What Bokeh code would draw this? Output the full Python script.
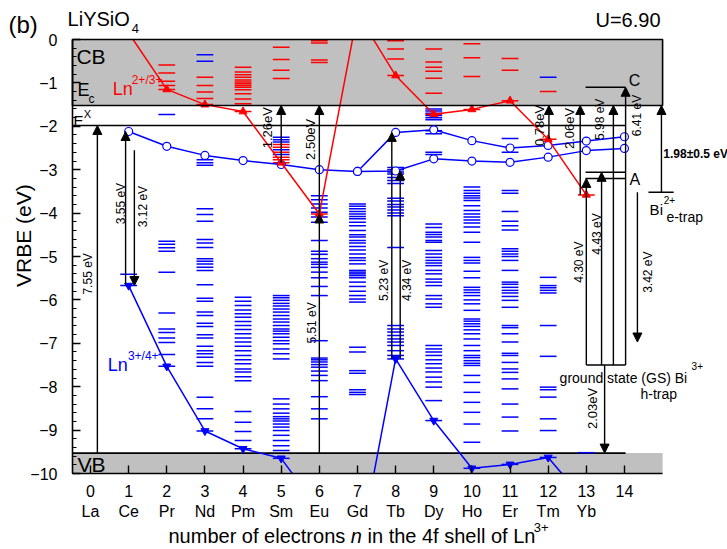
import math
from bokeh.plotting import figure
from bokeh.models import (Range1d, Label, Arrow, NormalHead, FixedTicker,
                          SingleIntervalTicker, LinearAxis)
from bokeh.embed import file_html
from bokeh.resources import INLINE

FONT = "Liberation Sans"
RED = "#ff0000"
BLUE = "#0000ff"
GRAY = "#c0c0c0"
BLACK = "#000000"

# ------------------------------------------------------------------ data
n_values = list(range(15))
element_names = ["La", "Ce", "Pr", "Nd", "Pm", "Sm", "Eu", "Gd", "Tb", "Dy",
                 "Ho", "Er", "Tm", "Yb", ""]

# host band energies (eV, VRBE)
E_VB_TOP = -9.53
E_X = -1.98
E_C = -1.52
# Bi levels
BI3_GS = -7.50
BI_A_LOW = -3.20
BI_A = -3.06
BI_C = -1.10
BI2_TRAP = -3.52
BI2_TRAP_END = -6.97
CE_EMIS_TOP = -2.55

# Ln2+/3+ ground states (red)
ln23_n = [1, 2, 3, 4, 5, 6, 7, 8, 9, 10, 11, 12, 13]
ln23_vrbe = [0.15, -1.15, -1.50, -1.66, -2.84, -4.02, 0.60, -0.83, -1.72, -1.61,
             -1.41, -2.30, -3.58]
# Ln3+/4+ ground states (blue)
ln34_n = [1, 2, 3, 4, 5, 6, 7, 8, 9, 10, 11, 12, 13]
ln34_vrbe = [-5.67, -7.53, -9.02, -9.43, -9.65, -10.85, -12.00, -7.36, -8.78,
             -9.88, -9.79, -9.63, -10.66]
# lowest 5d levels (open circles)
fd_upper_n = [1, 2, 3, 4, 5, 6, 7, 8, 9, 10, 11, 12, 13, 14]
fd_upper_vrbe = [-2.12, -2.46, -2.67, -2.79, -2.88, -3.00, -3.04, -2.14, -2.08,
                 -2.33, -2.50, -2.44, -2.34, -2.24]
fd_lower_n = [7, 8, 9, 10, 11, 12, 13, 14]
fd_lower_vrbe = [-3.04, -3.03, -2.75, -2.80, -2.83, -2.71, -2.56, -2.51]

# Ln3+ 4f levels (blue dashes)
blue_Ce = [-5.41, -5.67]
blue_Pr = [-1.73, -4.65, -4.72, -4.80, -4.88, -5.36, -6.30, -6.67, -6.75, -6.88,
           -6.98, -7.26, -7.53]
blue_Nd = [-0.35, -0.50, -2.77, -2.84, -2.90, -3.90, -4.03, -4.19, -4.61, -4.69,
           -4.79, -5.05, -5.11, -5.17, -5.25, -5.32, -5.65, -5.96, -6.03, -6.28,
           -6.36, -6.54, -6.61, -6.80, -6.88, -7.07, -7.17, -7.24, -7.32, -7.44,
           -7.53, -8.24, -8.51, -8.74, -9.02]
blue_Pm = [-5.94, -6.03, -6.13, -6.23, -6.32, -6.40, -6.50, -6.59, -6.68, -6.78,
           -6.88, -6.97, -7.07, -7.17, -7.28, -7.38, -7.47, -7.59, -7.66, -7.77,
           -7.86, -8.57, -8.82, -9.03, -9.24, -9.43]
blue_Sm = [-2.25, -2.31, -2.36, -2.54, -2.65, -5.90, -5.95, -6.01, -6.08, -6.14,
           -6.21, -6.28, -6.36, -6.44, -6.51, -6.59, -6.67, -6.72, -6.78, -6.86,
           -6.94, -7.01, -7.13, -7.24, -7.36, -8.28, -8.40, -8.51, -8.61, -8.69,
           -8.74, -8.79, -8.86, -8.93, -9.01, -9.12, -9.24, -9.36, -9.47, -9.65]
blue_Eu = [-3.60, -3.69, -3.79, -3.88, -3.98, -4.09, -4.21, -4.63, -4.88, -4.95,
           -5.05, -5.13, -5.18, -5.25, -5.36, -5.49, -5.69, -5.90, -6.94, -7.34,
           -7.38, -7.43, -7.49, -7.55, -7.64, -7.74, -7.86, -8.23, -8.51, -8.74]
blue_Gd = [-3.79, -3.84, -3.90, -3.96, -4.02, -4.08, -4.13, -4.21, -4.29, -4.40,
           -4.50, -4.55, -4.63, -4.69, -4.77, -4.85, -4.94, -5.03, -5.09, -5.17,
           -5.32, -5.36, -5.40, -5.44, -5.49, -5.59, -5.69, -5.80, -5.90, -5.98,
           -6.05, -7.09, -7.20, -7.63, -7.69, -8.07, -8.13, -8.18]
blue_Tb = [-2.95, -3.00, -3.05, -3.10, -3.18, -3.25, -3.32, -3.66, -3.72, -3.80,
           -3.86, -3.93, -4.00, -4.06, -4.79, -6.59, -6.67, -6.74, -6.82, -6.90,
           -6.97, -7.05, -7.17, -7.28, -7.36]
blue_Dy = [-1.60, -1.65, -1.70, -1.75, -1.80, -1.85, -2.10, -2.17, -2.60, -2.65,
           -4.25, -4.33, -4.44, -4.49, -4.55, -4.63, -4.67, -4.86, -4.94, -5.02,
           -5.09, -5.15, -5.21, -5.32, -5.40, -5.52, -5.59, -5.67, -5.90, -5.98,
           -6.09, -6.17, -7.05, -7.13, -7.20, -7.28, -7.38, -7.47, -7.57, -7.66,
           -7.78, -7.89, -8.01, -8.32, -8.78]
blue_Ho = [-3.40, -3.48, -3.54, -3.60, -3.65, -3.71, -3.83, -3.94, -4.02, -4.09,
           -4.16, -4.23, -4.32, -4.44, -4.67, -5.02, -5.09, -5.15, -5.34, -5.49,
           -5.71, -5.77, -5.83, -5.90, -6.00, -6.09, -6.24, -6.44, -6.49, -6.55,
           -6.61, -6.69, -6.78, -6.90, -7.05, -7.17, -7.28, -7.33, -7.40, -7.46,
           -7.51, -7.74, -7.90, -8.13, -8.36, -8.59, -8.86, -9.28, -9.88]
blue_Er = [-2.28, -2.60, -3.48, -3.54, -3.96, -4.19, -4.29, -4.39, -4.82, -4.88,
           -4.94, -5.00, -5.09, -5.32, -5.59, -5.64, -5.71, -5.78, -5.84, -5.92,
           -6.01, -6.17, -6.59, -6.64, -6.78, -6.97, -7.23, -7.28, -7.44, -7.59,
           -7.67, -7.82, -8.05, -8.40, -8.70, -9.02, -9.79]
blue_Tm = [-0.87, -5.48, -5.67, -5.72, -5.78, -5.84, -6.59, -7.30, -8.01, -8.07,
           -8.24, -8.74, -9.01, -9.63]
blue_Yb = [-9.52]

# Ln2+ 4f levels (red dashes)
red_Pr = [-0.59, -0.77, -0.96, -1.06, -1.15]
red_Nd = [-0.87, -1.06, -1.21, -1.36, -1.50]
red_Pm = [-0.64, -0.75, -0.81, -0.87, -0.93, -0.98, -1.02, -1.06, -1.10, -1.16,
          -1.25, -1.37, -1.48, -1.66]
red_Sm = [-0.18, -0.46, -0.71, -0.90, -2.42, -2.48, -2.60, -2.71, -2.77, -2.84]
red_Eu = [-0.03, -0.08, -0.47, -0.53, -4.02]
red_Tb = [-0.03, -0.22, -0.45, -0.83]
red_Dy = [-0.22, -0.52, -0.64, -0.73, -0.89, -1.24, -1.72]
red_Ho = [-0.10, -0.42, -0.85, -1.61]
red_Er = [-0.44, -0.71, -1.41]
red_Tm = [-1.20, -2.30]
red_Yb = [-3.58]

blue_sets = [(1, blue_Ce), (2, blue_Pr), (3, blue_Nd), (4, blue_Pm), (5, blue_Sm),
             (6, blue_Eu), (7, blue_Gd), (8, blue_Tb), (9, blue_Dy), (10, blue_Ho),
             (11, blue_Er), (12, blue_Tm), (13, blue_Yb)]
red_sets = [(2, red_Pr), (3, red_Nd), (4, red_Pm), (5, red_Sm), (6, red_Eu),
            (8, red_Tb), (9, red_Dy), (10, red_Ho), (11, red_Er), (12, red_Tm),
            (13, red_Yb)]

# ------------------------------------------------------------------ figure
# the frame covers the whole canvas; the axes are placed at fixed locations
VX0, VX1 = -2.360, 16.702     # visible x extent (whole canvas)
VY0, VY1 = -11.751, 0.899     # visible y extent (whole canvas)
AX0, AX1 = -0.472, 15.0       # drawn axis extent in x
AY0, AY1 = -10.0, 0.0         # drawn axis extent in y
XBOX = 14.03                  # end of E^X / VB lines
HALF = 0.22                   # half width of a level dash

p = figure(width=727, height=549, x_range=Range1d(VX0, VX1),
           y_range=Range1d(VY0, VY1), output_backend="svg",
           toolbar_location=None, x_axis_location=None, y_axis_location=None,
           min_border=0)
p.outline_line_color = None
p.grid.visible = False
p.background_fill_color = "white"

xa = LinearAxis(fixed_location=AY0)
xa.ticker = FixedTicker(ticks=n_values)
xa.major_label_overrides = {n: (f"{n}\n{el}" if el else f"{n}")
                            for n, el in zip(n_values, element_names)}
xa.bounds = (AX0, AX1)
xa.major_tick_in = 8
xa.major_tick_out = 0
xa.minor_tick_line_color = None
xa.major_label_standoff = 9
ya = LinearAxis(fixed_location=AX0)
ya.ticker = SingleIntervalTicker(interval=1, num_minor_ticks=5)
ya.bounds = (AY0, AY1)
ya.major_tick_in = 8
ya.major_tick_out = 0
ya.minor_tick_in = 4
ya.minor_tick_out = 0
ya.major_label_standoff = 15
for ax in (xa, ya):
    ax.axis_line_width = 1.6
    ax.major_tick_line_width = 1.4
    ax.minor_tick_line_width = 1.2
    ax.major_label_text_font = FONT
    ax.major_label_text_font_size = "16px"
    ax.major_label_text_color = BLACK
p.add_layout(xa, "below")
p.add_layout(ya, "left")

# bands (fill)
p.quad(left=[AX0], right=[AX1], top=[AY1], bottom=[E_C], fill_color=GRAY,
       line_color=None)
p.quad(left=[AX0], right=[AX1], top=[E_VB_TOP], bottom=[AY0], fill_color=GRAY,
       line_color=None)
p.segment(x0=[AX0, AX0], y0=[E_X, E_VB_TOP], x1=[XBOX, XBOX], y1=[E_X, E_VB_TOP],
          line_color=BLACK, line_width=1.6)

# level dashes
def dash_arrays(sets):
    x0s, x1s, ys = [], [], []
    for n, levels in sets:
        for e in levels:
            x0s.append(n - HALF)
            x1s.append(n + HALF)
            ys.append(e)
    return x0s, x1s, ys

bx0, bx1, by = dash_arrays(blue_sets)
p.segment(x0=bx0, y0=by, x1=bx1, y1=by, line_color=BLUE, line_width=1.5)
rx0, rx1, ry = dash_arrays(red_sets)
p.segment(x0=rx0, y0=ry, x1=rx1, y1=ry, line_color=RED, line_width=1.5)

# curves
p.line(ln34_n, ln34_vrbe, line_color=BLUE, line_width=1.5)
p.scatter(ln34_n, ln34_vrbe, marker="inverted_triangle", size=8, color=BLUE)
p.line(fd_upper_n, fd_upper_vrbe, line_color=BLUE, line_width=1.5)
p.line(fd_lower_n, fd_lower_vrbe, line_color=BLUE, line_width=1.5)
p.scatter(fd_upper_n, fd_upper_vrbe, marker="circle", size=8, fill_color="white",
          line_color=BLUE, line_width=1.2)
p.scatter(fd_lower_n, fd_lower_vrbe, marker="circle", size=8, fill_color="white",
          line_color=BLUE, line_width=1.2)
p.line(ln23_n, ln23_vrbe, line_color=RED, line_width=1.5)
p.scatter(ln23_n, ln23_vrbe, marker="triangle", size=8, color=RED)

# white masks outside the axis box (the curves leave the 0 .. -10 window)
p.quad(left=[VX0, VX0], right=[VX1, VX1], top=[VY1, AY0], bottom=[AY1, VY0],
       fill_color="white", line_color=None)
# conduction band outline
p.quad(left=[AX0], right=[AX1], top=[AY1], bottom=[E_C], fill_color=None,
       line_color=BLACK, line_width=1.6)

# Bi level structure
p.segment(x0=[12.98, 12.98, 12.98, 13.0, 14.63],
          y0=[BI_C, BI_A, BI_A_LOW, BI3_GS, BI2_TRAP],
          x1=[XBOX, XBOX, XBOX, XBOX, 15.29],
          y1=[BI_C, BI_A, BI_A_LOW, BI3_GS, BI2_TRAP],
          line_color=BLACK, line_width=1.5)

# arrows: (x, from, to)
arrows = [
    (0.18, E_VB_TOP, E_X),
    (0.92, ln34_vrbe[0], fd_upper_vrbe[0]),
    (1.15, CE_EMIS_TOP, ln34_vrbe[0]),
    (5.0, ln23_vrbe[4], E_C),
    (6.0, ln23_vrbe[5], E_C),
    (6.0, E_VB_TOP, ln23_vrbe[5]),
    (7.9, ln34_vrbe[7], fd_upper_vrbe[7]),
    (8.12, ln34_vrbe[7], fd_lower_vrbe[1]),
    (12.02, ln23_vrbe[11], E_C),
    (12.84, ln23_vrbe[12], E_C),
    (13.0, BI3_GS, BI_A_LOW),
    (13.4, BI3_GS, BI_A),
    (13.71, BI3_GS, E_C),
    (14.03, BI3_GS, BI_C),
    (13.48, BI3_GS, E_VB_TOP),
    (14.34, BI2_TRAP, BI2_TRAP_END),
    (14.97, BI2_TRAP, E_C),
]
for x, y0, y1 in arrows:
    p.add_layout(Arrow(end=NormalHead(size=9, fill_color=BLACK, line_color=BLACK,
                                      line_width=1),
                       x_start=x, y_start=y0, x_end=x, y_end=y1,
                       line_color=BLACK, line_width=1.4))

# ------------------------------------------------------------------ texts
def add_text(text, x, y, size, color=BLACK, angle=0.0, align="left",
             baseline="middle", style="normal"):
    p.add_layout(Label(x=x, y=y, text=text, text_font=FONT,
                       text_font_size=f"{size}px", text_color=color, angle=angle,
                       text_align=align, text_baseline=baseline,
                       text_font_style=style))

V = math.pi / 2
rot_labels = [
    ("7.55 eV", -0.07, -5.40, 12), ("3.55 eV", 0.79, -3.78, 12),
    ("3.12 eV", 1.38, -3.85, 12), ("1.26eV", 4.64, -2.03, 13),
    ("2.50eV", 5.77, -2.30, 13), ("5.51 eV", 5.81, -6.53, 12),
    ("5.23 eV", 7.70, -5.55, 12), ("4.34 eV", 8.29, -5.55, 12),
    ("0.78eV", 11.77, -1.98, 13), ("2.06eV", 12.56, -2.05, 13),
    ("5.98 eV", 13.35, -1.84, 12), ("6.41 eV", 14.32, -1.75, 12),
    ("4.30 eV", 12.82, -5.13, 12), ("4.43 eV", 13.27, -4.48, 12),
    ("3.42 eV", 14.63, -5.36, 12), ("2.03eV", 13.16, -8.50, 13),
]
for t, x, y, s in rot_labels:
    add_text(t, x, y, s, angle=V, align="center")

add_text("1.98±0.5 eV", 15.02, -2.63, 12, style="bold")
add_text("Bi", 14.66, -3.92, 15)
add_text("2+", 15.03, -3.70, 10)
add_text("e-trap", 15.10, -4.08, 14)
add_text("A", 14.13, -3.22, 16)
add_text("C", 14.11, -0.94, 16)
add_text("ground state (GS) Bi", 12.30, -7.79, 14)
add_text("3+", 15.76, -7.52, 10)
add_text("h-trap", 14.42, -8.16, 14)

add_text("CB", -0.37, -0.39, 21)
add_text("VB", -0.34, -9.80, 21)
add_text("E", -0.34, -1.17, 18)
add_text("c", -0.05, -1.38, 12)
add_text("E", -0.445, -1.87, 15)
add_text("X", -0.18, -1.72, 11)

add_text("Ln", 0.58, -1.15, 18, color=RED)
add_text("2+/3+", 1.08, -0.93, 12, color=RED)
add_text("Ln", 0.45, -7.49, 18, color=BLUE)
add_text("3+/4+", 0.98, -7.30, 12, color=BLUE)

add_text("(b)", -2.15, 0.35, 24)
add_text("LiYSiO", -0.60, 0.48, 20)
add_text("4", 1.08, 0.25, 13)
add_text("U=6.90", 13.24, 0.44, 20)

add_text("VRBE (eV)", -1.757, -4.52, 21, angle=V, align="center")
add_text("number of electrons", 2.045, -11.45, 20)
add_text("n", 6.824, -11.45, 20, style="italic")
add_text("in the 4f shell of Ln", 7.263, -11.45, 20)
add_text("3+", 11.62, -11.25, 13)

open("out.html", "w").write(file_html(p, INLINE))
